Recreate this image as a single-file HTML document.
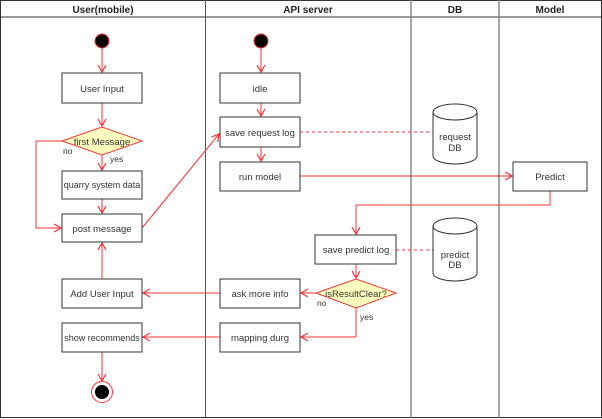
<!DOCTYPE html>
<html><head><style>body{margin:0;background:#fff}svg{display:block}</style></head><body>
<svg width="602" height="419" viewBox="0 0 602 419" xmlns="http://www.w3.org/2000/svg" font-family="Liberation Sans, sans-serif" font-size="9.5">
<defs><marker id="a" markerWidth="10" markerHeight="10" refX="8" refY="5" orient="auto" markerUnits="userSpaceOnUse"><path d="M1,1 L8,5 L1,9" fill="none" stroke="#f33" stroke-width="1.2"/></marker></defs>
<rect x="0.5" y="0.5" width="601" height="417" fill="#fff" stroke="#333"/>
<line x1="0" y1="17" x2="602" y2="17" stroke="#333"/>
<line x1="205.5" y1="0" x2="205.5" y2="418" stroke="#555"/>
<line x1="411" y1="0" x2="411" y2="418" stroke="#888" stroke-width="1.5"/>
<line x1="499" y1="0" x2="499" y2="418" stroke="#888" stroke-width="1.5"/>
<g font-weight="bold" font-size="10" text-anchor="middle" fill="#222"><text x="103" y="13">User(mobile)</text><text x="308" y="13">API server</text><text x="455" y="13">DB</text><text x="550" y="13">Model</text></g>
<g fill="none" stroke="#f33" stroke-width="1">
<line x1="102" y1="48" x2="102" y2="72" marker-end="url(#a)"/>
<line x1="102" y1="103" x2="102" y2="126" marker-end="url(#a)"/>
<line x1="102" y1="155" x2="102" y2="170" marker-end="url(#a)"/>
<line x1="102" y1="198" x2="102" y2="213" marker-end="url(#a)"/>
<polyline points="62,141 36,141 36,228 61,228" marker-end="url(#a)"/>
<line x1="102" y1="279" x2="102" y2="243" marker-end="url(#a)"/>
<line x1="142" y1="228" x2="219" y2="134" marker-end="url(#a)"/>
<line x1="261" y1="48" x2="261" y2="72" marker-end="url(#a)"/>
<line x1="261" y1="103" x2="261" y2="116" marker-end="url(#a)"/>
<line x1="261" y1="147" x2="261" y2="161" marker-end="url(#a)"/>
<line x1="300" y1="176" x2="512" y2="176" marker-end="url(#a)"/>
<polyline points="550,191 550,205 356,205 356,234" marker-end="url(#a)"/>
<line x1="356" y1="264" x2="356" y2="278" marker-end="url(#a)"/>
<line x1="316" y1="293" x2="301" y2="293" marker-end="url(#a)"/>
<polyline points="356,308 356,337 301,337" marker-end="url(#a)"/>
<line x1="220" y1="293" x2="143" y2="293" marker-end="url(#a)"/>
<line x1="220" y1="337" x2="143" y2="337" marker-end="url(#a)"/>
<line x1="102" y1="352" x2="102" y2="381" marker-end="url(#a)"/>
<line x1="300" y1="132" x2="432" y2="132" stroke-dasharray="3,3"/>
<line x1="396" y1="250" x2="433" y2="250" stroke-dasharray="3,3"/>
</g>
<circle cx="102" cy="41" r="7" fill="#000" stroke="#f33"/>
<circle cx="261" cy="41" r="7" fill="#000" stroke="#f33"/>
<circle cx="102" cy="392" r="10.5" fill="#fff" stroke="#f33"/>
<circle cx="102" cy="392" r="7" fill="#000"/>
<g fill="#fff" stroke="#333">
<rect x="62" y="73" width="80" height="30"/><rect x="62" y="171" width="80" height="28"/><rect x="62" y="214" width="80" height="28"/><rect x="62" y="279" width="80" height="29"/><rect x="62" y="323" width="80" height="29"/>
<rect x="220" y="73" width="80" height="30"/><rect x="220" y="117" width="80" height="30"/><rect x="220" y="162" width="80" height="29"/><rect x="220" y="279" width="80" height="29"/><rect x="220" y="323" width="80" height="29"/>
<rect x="315" y="235" width="81" height="29"/><rect x="513" y="162" width="74" height="29"/>
<path d="M433,112 v44 a22,8 0 0 0 44,0 v-44 a22,8 0 0 0 -44,0 a22,8 0 0 0 44,0"/>
<path d="M433,226 v47 a22,8 0 0 0 44,0 v-47 a22,8 0 0 0 -44,0 a22,8 0 0 0 44,0"/>
</g>
<path d="M62,141 L102,127 L142,141 L102,155 Z" fill="#ffffc0" stroke="#f33"/>
<path d="M316,293 L356,279 L396,293 L356,308 Z" fill="#ffffc0" stroke="#f33"/>
<g text-anchor="middle" fill="#333">
<text x="102" y="92">User Input</text><text x="102" y="145">first Message</text><text x="102" y="188" font-size="9">quarry system data</text><text x="102" y="232">post message</text><text x="102" y="297">Add User Input</text><text x="102" y="341" font-size="9">show recommends</text>
<text x="260" y="92">idle</text><text x="260" y="136">save request log</text><text x="260" y="180">run model</text><text x="260" y="297">ask more info</text><text x="260" y="341">mapping durg</text>
<text x="356" y="253">save predict log</text><text x="356" y="297">isResultClear?</text><text x="550" y="180">Predict</text>
<text x="455" y="140">request</text><text x="455" y="151">DB</text><text x="455" y="258">predict</text><text x="455" y="268">DB</text>
</g>
<g font-size="8.5" fill="#333"><text x="63" y="154">no</text><text x="110" y="162">yes</text><text x="317" y="306">no</text><text x="360" y="320">yes</text></g>
</svg>
</body></html>
